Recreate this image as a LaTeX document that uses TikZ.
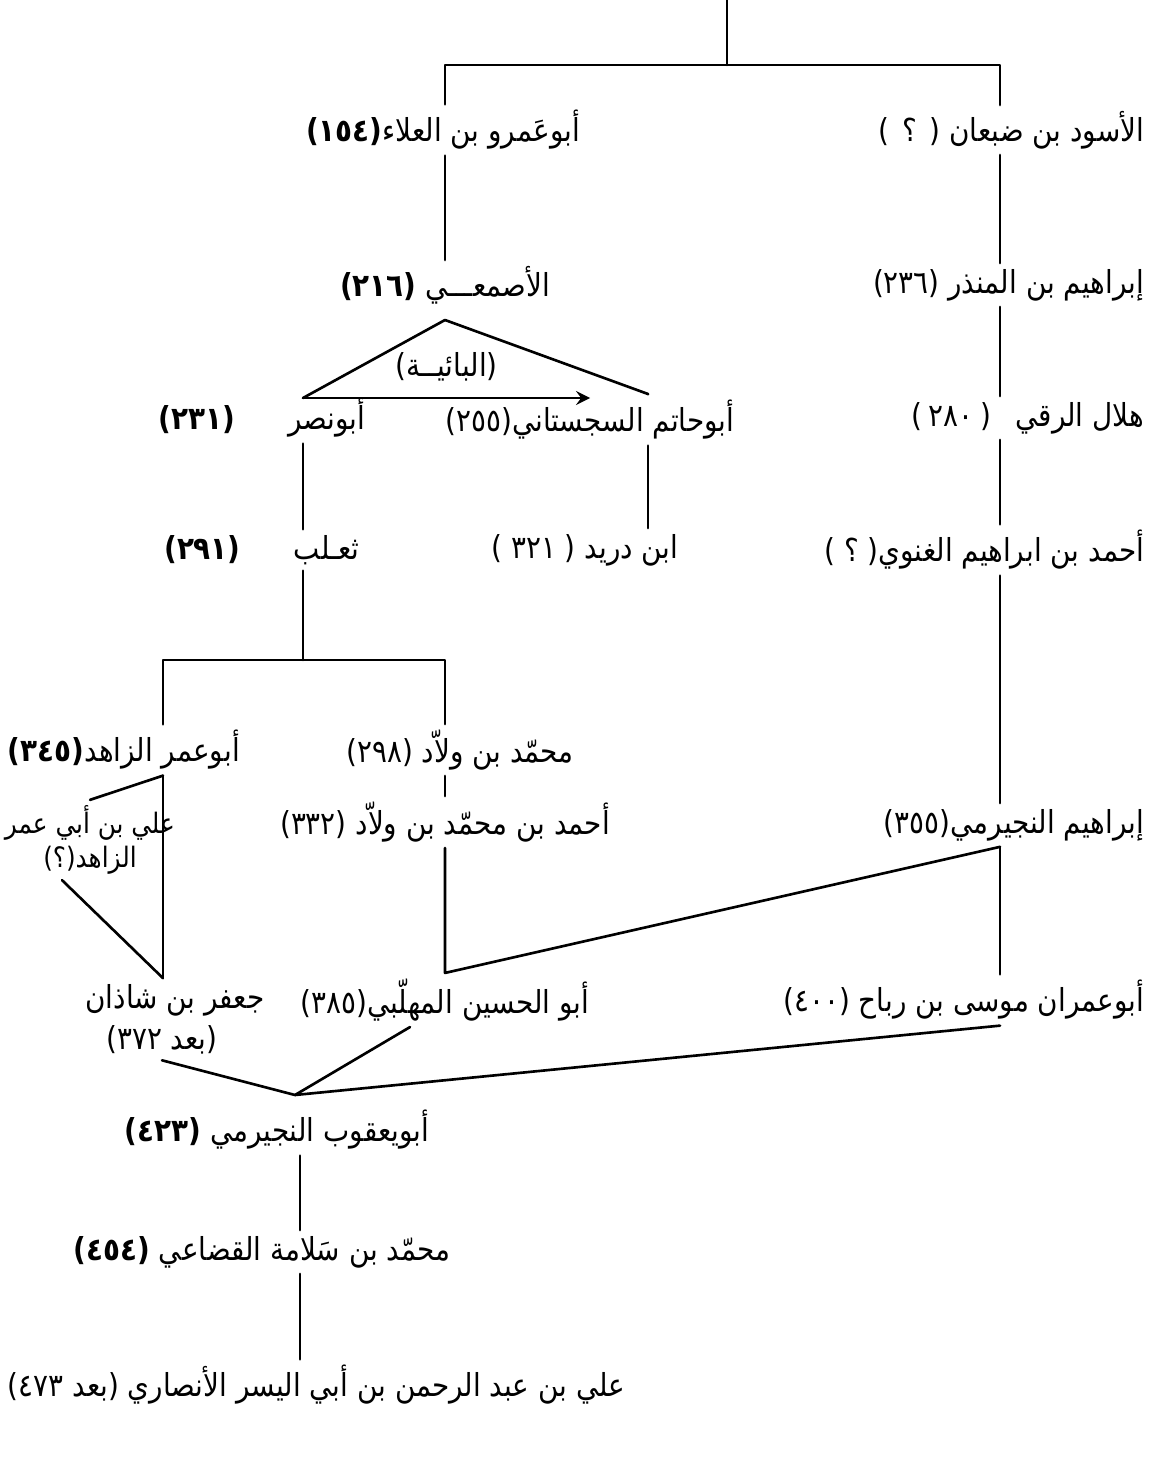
\documentclass[tikz,border=0pt]{standalone}
\usepackage{fontspec}
\newfontfamily\arabicfont[Script=Arabic,FakeStretch=0.88]{DejaVu Sans}
\TeXXeTstate=1
\newcommand{\ar}[1]{{\arabicfont\beginR #1\endR}}
\tikzset{
  person/.style={inner sep=1.5pt},
  link/.style={line width=0.75pt},
}
\begin{document}
\begin{tikzpicture}[line join=round,line cap=round,>=stealth,font=\arabicfont\fontsize{9}{11}\selectfont]
\useasboundingbox (0,0) rectangle (11.52,-14.70);
% columns
\coordinate (top) at (7.27,0);
\coordinate (fork) at (7.27,-0.65);
\coordinate (colL) at (4.45,-0.65);
\coordinate (colR) at (10.00,-0.65);
\coordinate (colNasr) at (3.03,0);
\coordinate (colHatim) at (6.48,0);
\coordinate (colZahid) at (1.63,0);
\coordinate (colAli) at (0.62,0);
\coordinate (colMuh) at (4.10,0);
\coordinate (colYaqub) at (3.00,0);
% names
\node[person] (amr) at (4.43,-1.30) {\ar{أبوعَمرو بن العلاء\textbf{(١٥٤)}}};
\node[person,anchor=east] (aswad) at (11.50,-1.30) {\ar{الأسود بن ضبعان (\hspace{0.4em}؟\hspace{0.4em})}};
\node[person] (asmai) at (4.45,-2.85) {\ar{الأصمعـــي \textbf{(٢١٦)}}};
\node[person,anchor=east] (mundhir) at (11.50,-2.85) {\ar{إبراهيم بن المنذر (٢٣٦)}};
\node[person] (abunasr) at (2.62,-4.18) {\ar{أبونصر \hspace{1.4em}\textbf{(٢٣١)}}};
\node[person] (abuhatim) at (5.90,-4.20) {\ar{أبوحاتم السجستاني(٢٥٥)}};
\node[person,anchor=east] (hilal) at (11.50,-4.18) {\ar{هلال الرقي \hspace{0.5em}(\hspace{0.2em}٢٨٠\hspace{0.2em})}};
\node[person] (thalab) at (2.62,-5.50) {\ar{ثعـلب \hspace{1.4em}\textbf{(٢٩١)}}};
\node[person] (durayd) at (5.85,-5.50) {\ar{ابن دريد ( ٣٢١ )}};
\node[person,anchor=east] (ghanawi) at (11.50,-5.50) {\ar{أحمد بن ابراهيم الغنوي( ؟ )}};
\node[person,anchor=west] (zahid) at (0.02,-7.50) {\ar{أبوعمر الزاهد\textbf{(٣٤٥)}}};
\node[person] (wallad) at (4.60,-7.50) {\ar{محمّد بن ولاّد (٢٩٨)}};
\node[person,align=center,font=\arabicfont\fontsize{8}{9.5}\selectfont] (alizahid) at (0.90,-8.40) {\ar{علي بن أبي عمر}\\\ar{الزاهد(؟)}};
\node[person] (ahmadwallad) at (4.45,-8.22) {\ar{أحمد بن محمّد بن ولاّد (٣٣٢)}};
\node[person,anchor=east] (najirami) at (11.50,-8.25) {\ar{إبراهيم النجيرمي(٣٥٥)}};
\node[person] (jafar) at (1.75,-10.00) {\ar{جعفر بن شاذان}};
\node[person] (jafardate) at (1.62,-10.40) {\ar{(بعد ٣٧٢)}};
\node[person] (muhallabi) at (4.45,-10.00) {\ar{أبو الحسين المهلّبي(٣٨٥)}};
\node[person,anchor=east] (musa) at (11.50,-10.00) {\ar{أبوعمران موسى بن رباح (٤٠٠)}};
\node[person] (yaqub) at (2.77,-11.30) {\ar{أبويعقوب النجيرمي \textbf{(٤٢٣)}}};
\node[person] (qudai) at (2.62,-12.52) {\ar{محمّد بن سَلامة القضاعي \textbf{(٤٥٤)}}};
\node[person,anchor=west] (ansari) at (0.02,-13.85) {\ar{علي بن عبد الرحمن بن أبي اليسر الأنصاري (بعد ٤٧٣)}};
% top fork
\draw[link] (top) -- (fork);
\draw[link] (amr.north -| colL) -- (colL) -- (colR) -- (aswad.north -| colR);
\draw[link] (amr.south -| colL) -- (asmai.north -| colL);
\foreach \a/\b in {aswad/mundhir,mundhir/hilal,hilal/ghanawi,ghanawi/najirami,najirami/musa}
  \draw[link] (\a.south -| colR) -- (\b.north -| colR);
% al-Asmai and his two pupils
\coordinate (apex) at (4.45,-3.20);
\coordinate (nasrtip) at (3.03,-3.98);
\coordinate (hatimtip) at (6.48,-3.94);
\coordinate (arrowend) at (5.90,-3.98);
\draw[link] (nasrtip) -- (apex) -- (hatimtip) -- (abuhatim.north -| colHatim);
\draw[link,->] (nasrtip) -- (arrowend) node[midway,above=1pt] (baiyya) {\ar{(البائيــة)}};
\draw[link] (abunasr.south -| colNasr) -- (thalab.north -| colNasr);
\draw[link] (abuhatim.south -| colHatim) -- (durayd.north -| colHatim);
% Tha'lab
\coordinate (tbar) at (3.03,-6.60);
\draw[link] (thalab.south -| colNasr) -- (tbar);
\draw[link] (zahid.north -| colZahid) |- (tbar) -| (wallad.north -| colL);
\draw[link] (zahid.south -| colZahid) -- (jafar.north -| colZahid);
\draw[link] (zahid.south -| colZahid) -- (alizahid.north);
\draw[link] (alizahid.south -| colAli) -- (jafar.north -| colZahid);
\draw[link] (wallad.south -| colL) -- (ahmadwallad.north -| colL);
\draw[link] (ahmadwallad.south -| colL) -- (muhallabi.north -| colL) -- (najirami.south -| colR);
% the three lines meeting at al-Najirami
\coordinate (join) at (2.95,-10.95);
\draw[link] (jafardate.south) -- (join) -- (musa.south -| colR);
\draw[link] (muhallabi.south -| colMuh) -- (join);
\draw[link] (yaqub.south -| colYaqub) -- (qudai.north -| colYaqub);
\draw[link] (qudai.south -| colYaqub) -- (ansari.north -| colYaqub);
\end{tikzpicture}
\end{document}
